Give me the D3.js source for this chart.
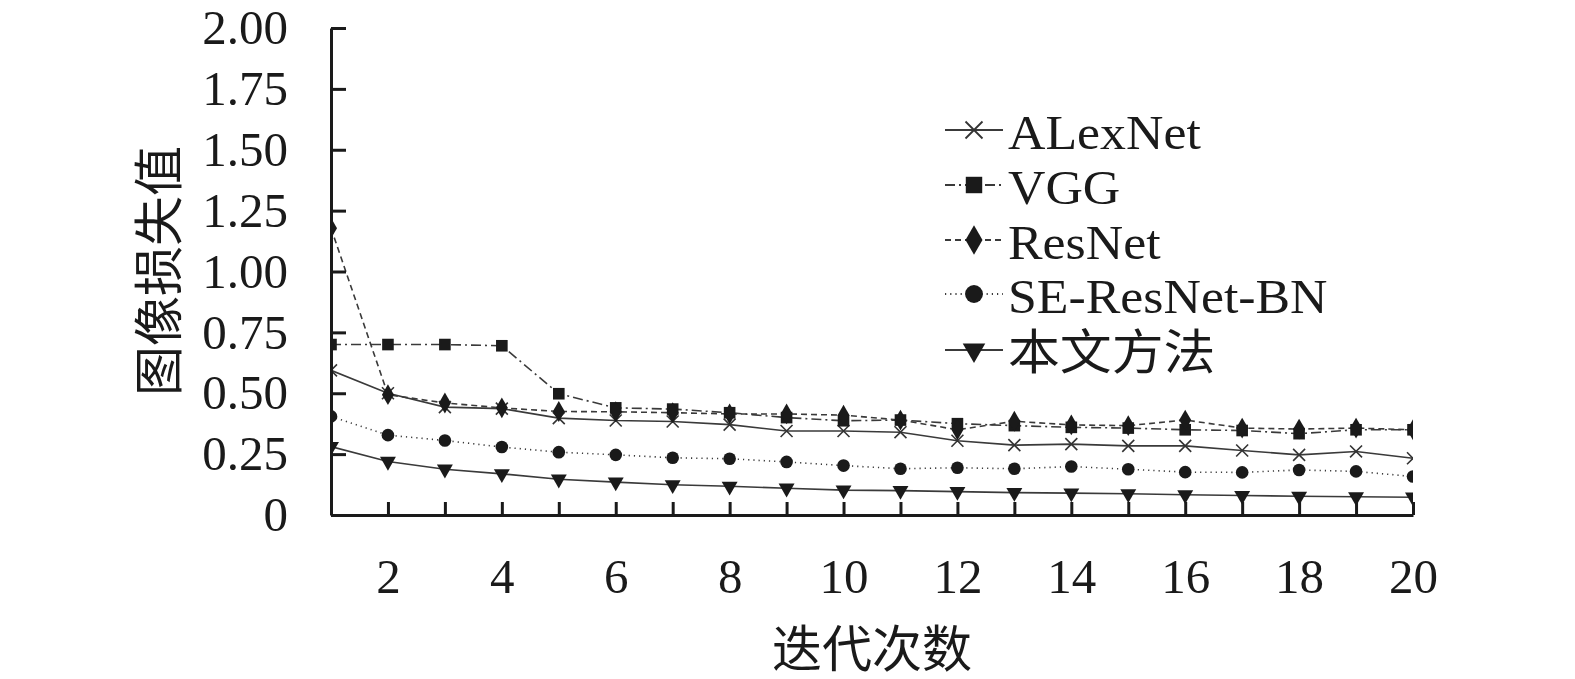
<!DOCTYPE html>
<html>
<head>
<meta charset="utf-8">
<script src="https://cdn.jsdelivr.net/npm/d3@7"></script>
<style>
  body { margin: 0; background: #fff; }
  svg { display: block; }
  text { font-family: "Liberation Serif", "Times New Roman", "Noto Sans CJK SC", serif; fill: #1a1a1a; }
</style>
</head>
<body>
<script>
// iterations 1..20
const iterations = d3.range(1, 21)

const seriesNames = ["ALexNet", "VGG", "ResNet", "SE-ResNet-BN", "本文方法"]

const alexnet = [0.594, 0.50, 0.443, 0.437, 0.398, 0.388, 0.384, 0.371, 0.345, 0.345,
                 0.34, 0.305, 0.287, 0.291, 0.284, 0.284, 0.265, 0.247, 0.261, 0.233]
const vgg     = [0.70, 0.70, 0.70, 0.695, 0.498, 0.44, 0.435, 0.42, 0.40, 0.387,
                 0.39, 0.375, 0.367, 0.36, 0.357, 0.35, 0.347, 0.334, 0.35, 0.35]
const resnet  = [1.178, 0.494, 0.46, 0.44, 0.425, 0.424, 0.42, 0.415, 0.415, 0.41,
                 0.39, 0.35, 0.385, 0.37, 0.367, 0.39, 0.357, 0.353, 0.357, 0.35]
const seResnetBn = [0.405, 0.328, 0.306, 0.279, 0.258, 0.247, 0.235, 0.231, 0.218, 0.203,
                    0.19, 0.194, 0.19, 0.199, 0.188, 0.176, 0.175, 0.185, 0.179, 0.158]
const ours    = [0.281, 0.22, 0.188, 0.169, 0.147, 0.135, 0.124, 0.118, 0.11, 0.102,
                 0.1, 0.096, 0.092, 0.09, 0.087, 0.083, 0.08, 0.077, 0.075, 0.073]

const yTicks = [0, 0.25, 0.5, 0.75, 1.0, 1.25, 1.5, 1.75, 2.0]
const xTicks = d3.range(2, 21)

const width = 1575
const height = 679

const svg = d3.select("body")
    .append("svg")
    .attr("width", width)
    .attr("height", height)

const x = d3.scaleLinear().domain([1, 20]).range([331, 1413])
const y = d3.scaleLinear().domain([0, 2]).range([515, 28])

// line / marker styles per series
const styles = [
  { dash: null,          sym: d3.symbolX,        size: 95,  rot: 0 },
  { dash: "10,4,2,4",    sym: d3.symbolSquare,   size: 135, rot: 0 },
  { dash: "6,4",         sym: d3.symbolDiamond,  size: 125, rot: 0 },
  { dash: "1.2,4",       sym: d3.symbolCircle,   size: 125, rot: 0 },
  { dash: null,          sym: d3.symbolTriangle, size: 110, rot: 180 }
]

const series = [alexnet, vgg, resnet, seResnetBn, ours].map((vals, i) => ({
  name: seriesNames[i],
  style: styles[i],
  points: iterations.map((it, j) => ({ it: it, v: vals[j] }))
}))

svg.append("clipPath")
    .attr("id", "plotclip")
  .append("rect")
    .attr("x", 331)
    .attr("y", 0)
    .attr("width", 1413 - 331)
    .attr("height", 515)

const line = d3.line()
    .x(d => x(d.it))
    .y(d => y(d.v))

const plot = svg.append("g").attr("clip-path", "url(#plotclip)")

plot.selectAll("path.series")
  .data(series)
  .join("path")
    .attr("class", "series")
    .attr("fill", "none")
    .attr("stroke", "#3a3a3a")
    .attr("stroke-width", 1.6)
    .attr("stroke-dasharray", d => d.style.dash)
    .attr("d", d => line(d.points))

const symbolPath = (s) => d3.symbol(s.sym, s.size)()

series.forEach(s => {
  const isX = s.style.sym === d3.symbolX
  plot.append("g")
    .selectAll("path")
    .data(s.points)
    .join("path")
      .attr("transform", d => `translate(${x(d.it)},${y(d.v)}) rotate(${s.style.rot})`)
      .attr("d", symbolPath(s.style))
      .attr("fill", isX ? "none" : "#1a1a1a")
      .attr("stroke", isX ? "#333" : "none")
      .attr("stroke-width", 1.6)
})

// axes
const yAxis = d3.axisLeft(y)
    .tickValues(yTicks)
    .tickFormat(d => d === 0 ? "0" : d3.format(".2f")(d))
    .tickSizeInner(-15)
    .tickSizeOuter(0)
    .tickPadding(43)

const xAxis = d3.axisBottom(x)
    .tickValues(xTicks)
    .tickFormat(d => d % 2 === 0 ? d : "")
    .tickSizeInner(-13)
    .tickSizeOuter(0)
    .tickPadding(43)

const gy = svg.append("g")
    .attr("transform", "translate(331,0)")
    .call(yAxis)
gy.select(".domain").attr("stroke", "#1a1a1a").attr("stroke-width", 3)
gy.selectAll(".tick line").attr("stroke", "#1a1a1a").attr("stroke-width", 3)
gy.selectAll("text")
    .attr("font-size", 49)
    .attr("font-family", "Liberation Serif, serif")
    .attr("fill", "#1a1a1a")

const gx = svg.append("g")
    .attr("transform", "translate(0,515)")
    .call(xAxis)
gx.select(".domain").attr("stroke", "#1a1a1a").attr("stroke-width", 3)
gx.selectAll(".tick line").attr("stroke", "#1a1a1a").attr("stroke-width", 3)
gx.selectAll("text")
    .attr("font-size", 49)
    .attr("font-family", "Liberation Serif, serif")
    .attr("fill", "#1a1a1a")

// axis titles
svg.append("text")
    .attr("x", 872)
    .attr("y", 650)
    .attr("text-anchor", "middle")
    .attr("dominant-baseline", "central")
    .attr("font-size", 50)
    .text("迭代次数")

svg.append("text")
    .attr("transform", "translate(160,271) rotate(-90)")
    .attr("text-anchor", "middle")
    .attr("dominant-baseline", "central")
    .attr("font-size", 50)
    .text("图像损失值")

// legend
const legendRows = [130, 185, 240, 294, 350]
const legend = svg.append("g")
    .selectAll("g")
    .data(series)
    .join("g")
      .attr("transform", (d, i) => `translate(945,${legendRows[i]})`)

legend.append("line")
    .attr("x1", 0)
    .attr("x2", 58)
    .attr("stroke", "#3a3a3a")
    .attr("stroke-width", 1.8)
    .attr("stroke-dasharray", d => d.style.dash)

legend.append("path")
    .attr("transform", d => `translate(29,0) rotate(${d.style.rot})`)
    .attr("d", d => d3.symbol(d.style.sym, d.style.size * 2)())
    .attr("fill", d => d.style.sym === d3.symbolX ? "none" : "#1a1a1a")
    .attr("stroke", d => d.style.sym === d3.symbolX ? "#333" : "none")
    .attr("stroke-width", 1.8)

legend.append("text")
    .attr("transform", "translate(63,19) scale(1.08,1)")
    .attr("font-size", 48)
    .text(d => d.name)
</script>
</body>
</html>
